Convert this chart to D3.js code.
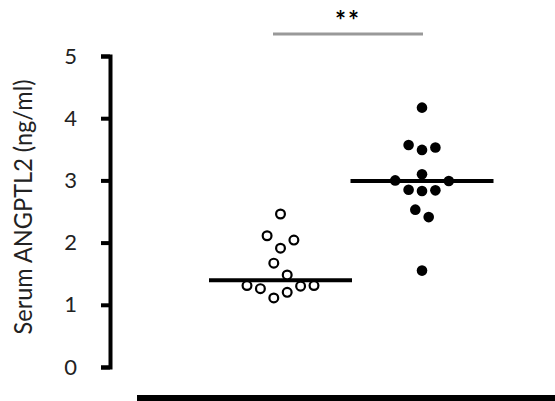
<!DOCTYPE html>
<html>
<head>
<meta charset="utf-8">
<script src="https://cdn.jsdelivr.net/npm/d3@7"></script>
<style>
  html, body { margin: 0; padding: 0; background: #fff; }
  svg { display: block; }
  text { font-family: Lato, "Open Sans", sans-serif; }
</style>
</head>
<body>
<svg id="chart" width="555" height="401"></svg>
<script>
// ---- data ----
const groups = ["control", "patient"];
const controlValues = [2.46, 2.11, 2.04, 1.91, 1.67, 1.48, 1.31, 1.26, 1.11, 1.20, 1.30, 1.31];
const controlCols   = [0, -2, 2, 0, -1, 1, -5, -3, -1, 1, 3, 5];
const patientValues = [4.17, 3.57, 3.49, 3.53, 3.10, 3.00, 2.99, 2.85, 2.83, 2.84, 2.53, 2.41, 1.55];
const patientCols   = [0, -2, 0, 2, 0, -4, 4, -2, 0, 2, -1, 1, 0];
const yTicks = [0, 1, 2, 3, 4, 5];
const yLabel = "Serum ANGPTL2 (ng/ml)";
const sigLabel = "**";

// ---- layout ----
const svg = d3.select("#chart");
const axisX = 110;
const y = d3.scaleLinear().domain([0, 5]).range([367, 56]);
const x = d3.scalePoint().domain(groups).range([280.5, 422]);
const colStep = 6.7;
const halfMedian = 71.5;

// y axis
const yAxis = d3.axisLeft(y).tickValues(yTicks).tickFormat(d3.format("d"))
  .tickSize(9).tickSizeOuter(9).tickPadding(24);
const gAxis = svg.append("g").attr("transform", `translate(${axisX},0)`).call(yAxis);
gAxis.select(".domain").attr("stroke", "#000").attr("stroke-width", 4).attr("fill", "none");
gAxis.selectAll(".tick line").attr("stroke", "#000").attr("stroke-width", 4);
gAxis.selectAll(".tick text").attr("fill", "#222").style("font-size", "22px")
  .style("font-family", "Lato, sans-serif");

// y label
svg.append("text")
  .attr("transform", `translate(32,207) rotate(-90)`)
  .attr("text-anchor", "middle")
  .attr("textLength", 255)
  .attr("lengthAdjust", "spacingAndGlyphs")
  .style("font-size", "25px")
  .attr("fill", "#222")
  .text(yLabel);

// medians and points
const data = [
  { g: "control", vals: controlValues, cols: controlCols, filled: false },
  { g: "patient", vals: patientValues, cols: patientCols, filled: true }
];
data.forEach(s => {
  const m = d3.median(s.vals);
  svg.append("line")
    .attr("x1", x(s.g) - halfMedian).attr("x2", x(s.g) + halfMedian)
    .attr("y1", y(m)).attr("y2", y(m))
    .attr("stroke", "#000").attr("stroke-width", 4);
  svg.append("g").selectAll("circle")
    .data(s.vals.map((v, i) => ({ v, c: s.cols[i] })))
    .join("circle")
    .attr("cx", d => x(s.g) + d.c * colStep)
    .attr("cy", d => y(d.v))
    .attr("r", s.filled ? 5.3 : 4.4)
    .attr("fill", s.filled ? "#000" : "#fff")
    .attr("stroke", "#000")
    .attr("stroke-width", s.filled ? 0 : 2.2);
});

// significance bar
const sx1 = x("control") - 7.5, sx2 = x("patient") + 1;
svg.append("line")
  .attr("x1", sx1).attr("x2", sx2)
  .attr("y1", 34).attr("y2", 34)
  .attr("stroke", "#999").attr("stroke-width", 3);
svg.append("text")
  .attr("x", (sx1 + sx2) / 2)
  .attr("y", 30)
  .attr("text-anchor", "middle")
  .style("font-size", "26px")
  .style("font-weight", "bold")
  .style("letter-spacing", "2px")
  .attr("fill", "#000")
  .text(sigLabel);

// bottom bar
svg.append("line")
  .attr("x1", 137).attr("x2", 555)
  .attr("y1", 399).attr("y2", 399)
  .attr("stroke", "#000").attr("stroke-width", 8);
</script>
</body>
</html>
